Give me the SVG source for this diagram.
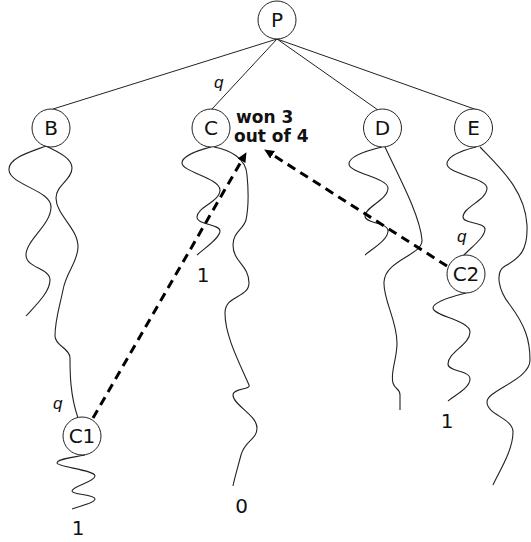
<svg xmlns="http://www.w3.org/2000/svg" width="531" height="542" viewBox="0 0 531 542">
  <style>
    .node circle { fill: #fff; stroke: #222; stroke-width: 1; }
    .node text { font-family: "DejaVu Sans", Verdana, sans-serif; font-size: 20px; fill: #111; text-anchor: middle; }
    .edge { fill: none; stroke: #222; stroke-width: 1; }
    .walk { fill: none; stroke: #222; stroke-width: 1.1; }
    .dash { fill: none; stroke: #000; stroke-width: 3; stroke-dasharray: 9 6; }
    .q { font-family: "Liberation Sans", Arial, sans-serif; font-style: italic; font-size: 17px; fill: #111; }
    .res { font-family: "DejaVu Sans", Verdana, sans-serif; font-size: 20px; fill: #111; text-anchor: middle; }
    .note { font-family: "DejaVu Sans", Verdana, sans-serif; font-weight: bold; font-size: 17px; fill: #111; }
  </style>
  <defs>
    <marker id="head" markerUnits="userSpaceOnUse" markerWidth="12" markerHeight="10" refX="0" refY="4.5" orient="auto">
      <path d="M0,0 L10,4.5 L0,9 z" fill="#000"/>
    </marker>
  </defs>

  <g id="connectors">
    <!-- tree edges from the root -->
    <line class="edge" x1="277" y1="39" x2="53" y2="109"/>
    <line class="edge" x1="277" y1="39" x2="212" y2="109"/>
    <line class="edge" x1="277" y1="39" x2="378" y2="110"/>
    <line class="edge" x1="277" y1="39" x2="480" y2="111"/>

    <!-- random playouts under B -->
    <path class="walk" d="M46,146 C30,152 8,158 9,170 C10,185 51,190 51,207 C51,225 26,240 26,255 C26,268 50,268 50,280 C50,292 36,305 26,316"/>
    <path class="walk" d="M46,146 C58,152 72,158 72,168 C72,180 56,185 56,198 C56,215 78,228 78,247 C78,262 66,272 63,290 C60,305 55,320 55,336 C55,346 70,348 70,358 C70,372 70,395 78,418"/>
    <path class="walk" d="M85,455 C70,458 57,459 57,463 C57,467 95,470 95,476 C95,482 72,486 72,491 C72,495 95,494 95,499 C95,503 80,506 72,509"/>

    <!-- random playouts under C -->
    <path class="walk" d="M211,147 C195,151 182,157 182,163 C182,172 220,178 220,190 C220,202 197,207 197,217 C197,225 220,224 220,231 C220,238 205,248 197,255"/>
    <path class="walk" d="M214,147 C230,150 246,158 247,175 C249,195 248,210 246,220 C243,230 233,232 233,245 C233,262 249,265 249,283 C249,298 225,295 225,313 C225,335 238,360 249,385 C251,390 233,388 233,395 C233,405 257,415 257,428 C257,440 245,440 241,455 C237,470 234,480 233,486"/>

    <!-- random playouts under D -->
    <path class="walk" d="M382,147 C365,151 349,157 349,164 C349,173 388,178 388,188 C388,200 365,207 365,216 C365,224 388,222 388,231 C388,240 372,249 365,255"/>
    <path class="walk" d="M385,147 C398,175 420,215 422,240 C423,255 385,260 384,282 C383,300 397,320 397,343 C397,360 390,372 393,383 C395,390 400,388 400,395 L400,410"/>

    <!-- random playouts under E -->
    <path class="walk" d="M476,147 C460,151 447,157 447,164 C447,174 487,178 487,188 C487,200 463,207 463,217 C463,224 485,222 485,229 C485,238 470,248 463,256"/>
    <path class="walk" d="M480,147 C500,168 525,190 527,225 C528,250 520,258 505,266 C495,272 498,290 510,305 C525,325 530,340 530,360 C530,380 487,390 487,402 C487,415 513,418 513,432 C513,450 500,470 493,485"/>
    <path class="walk" d="M466,293 C450,297 433,302 433,308 C433,316 470,320 470,332 C470,345 448,352 448,364 C448,372 470,370 470,379 C470,388 455,395 448,401"/>

    <!-- results reported back to C -->
    <line class="dash" x1="93" y1="418" x2="241.5" y2="160.8" marker-end="url(#head)"/>
    <line class="dash" x1="447" y1="266" x2="272.6" y2="154.8" marker-end="url(#head)"/>
  </g>

  <g id="node-P" class="node"><circle cx="277" cy="20" r="19"/><text x="277" y="27.3">P</text></g>
  <g id="node-B" class="node"><circle cx="51" cy="128" r="19"/><text x="51" y="135.3">B</text></g>
  <g id="node-C" class="node"><circle cx="211" cy="128" r="19"/><text x="211" y="135.3">C</text></g>
  <g id="node-D" class="node"><circle cx="382.5" cy="128" r="19"/><text x="382.5" y="135.3">D</text></g>
  <g id="node-E" class="node"><circle cx="473.5" cy="128" r="19"/><text x="473.5" y="135.3">E</text></g>
  <g id="node-C1" class="node"><circle cx="82" cy="436" r="19"/><text x="82" y="443.3">C1</text></g>
  <g id="node-C2" class="node"><circle cx="466" cy="274" r="19"/><text x="466" y="281.3">C2</text></g>

  <g id="labels">
    <text class="q" x="214" y="88">q</text>
    <text class="q" x="53" y="409">q</text>
    <text class="q" x="457" y="242">q</text>
    <text class="note" x="236" y="123">won 3</text>
    <text class="note" x="234" y="142">out of 4</text>
    <text class="res" x="203" y="282">1</text>
    <text class="res" x="241.5" y="513">0</text>
    <text class="res" x="78" y="535">1</text>
    <text class="res" x="447" y="428">1</text>
  </g>
</svg>
